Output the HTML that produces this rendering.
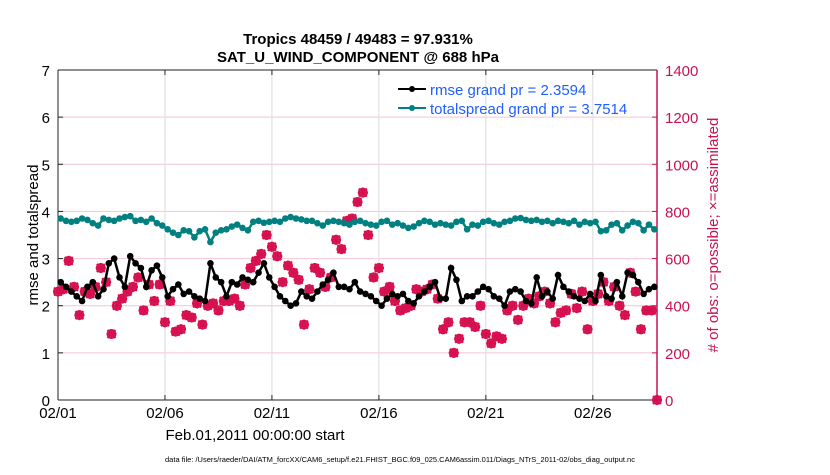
<!DOCTYPE html>
<html><head><meta charset="utf-8"><style>
body{margin:0;background:#fff;}
svg text{font-family:"Liberation Sans",sans-serif;}
</style></head><body>
<svg id="chart" width="830" height="470" xmlns="http://www.w3.org/2000/svg">
<rect width="830" height="470" fill="#fff"/>
<text x="358" y="44" font-size="15" font-weight="bold" text-anchor="middle">Tropics 48459 / 49483 = 97.931%</text>
<text x="358" y="62" font-size="15" font-weight="bold" text-anchor="middle">SAT_U_WIND_COMPONENT @ 688 hPa</text>
<g id="grid"></g>
<g id="axes"></g>
<g id="marks"></g>
<text x="255" y="440" font-size="15" text-anchor="middle">Feb.01,2011 00:00:00 start</text>
<text transform="translate(38,235) rotate(-90)" font-size="15" text-anchor="middle">rmse and totalspread</text>
<text transform="translate(718,235) rotate(-90)" font-size="15" fill="#c8134f" text-anchor="middle"># of obs: o=possible; ×=assimilated</text>
<text x="400" y="462" font-size="7.5" text-anchor="middle">data file: /Users/raeder/DAI/ATM_forcXX/CAM6_setup/f.e21.FHIST_BGC.f09_025.CAM6assim.011/Diags_NTrS_2011-02/obs_diag_output.nc</text>
<g>
<line x1="398" y1="89" x2="426" y2="89" stroke="#000" stroke-width="2"/><circle cx="412" cy="89" r="3" fill="#000"/>
<text x="430" y="95" font-size="15" fill="#1f5fff">rmse grand pr = 2.3594</text>
<line x1="398" y1="108" x2="426" y2="108" stroke="#008080" stroke-width="2"/><circle cx="412" cy="108" r="3" fill="#008080"/>
<text x="430" y="114" font-size="15" fill="#1f5fff">totalspread grand pr = 3.7514</text>
</g>
</svg>
<script>
const xTickLabels=["02/01","02/06","02/11","02/16","02/21","02/26"];
const xTickDays=[0,5,10,15,20,25];
const yLeftTicks=[0,1,2,3,4,5,6,7];
const yRightTicks=[0,200,400,600,800,1000,1200,1400];
const rmse=[2.5,2.4,2.3,2.2, 2.1,2.4,2.5,2.2, 2.35,2.9,3.0,2.6, 2.4,3.05,2.9,2.8, 2.4,2.75,2.85,2.6, 2.2,2.35,2.45,2.25, 2.3,2.2,2.15,2.1, 2.9,2.6,2.5,2.2, 2.5,2.45,2.6,2.55, 2.5,2.7,2.9,2.6, 2.4,2.2,2.1,2.0, 2.05,2.3,2.2,2.15, 2.3,2.45,2.55,2.7, 2.4,2.4,2.35,2.5, 2.3,2.25,2.2,2.1, 2.0,2.15,2.25,2.2, 2.25,2.1,2.05,2.2, 2.3,2.4,2.5,2.15, 2.15,2.8,2.55,2.1, 2.2,2.2,2.3,2.4, 2.35,2.2,2.15,2.0, 2.3,2.35,2.3,2.1, 2.05,2.6,2.2,2.3, 2.15,2.65,2.4,2.3, 2.2,2.15,2.1,2.25, 2.1,2.65,2.2,2.15, 2.5,2.2,2.7,2.65, 2.5,2.25,2.35,2.4];
const spread=[3.85,3.8,3.78,3.8, 3.85,3.82,3.75,3.7, 3.85,3.82,3.8,3.85, 3.88,3.9,3.8,3.82, 3.78,3.85,3.75,3.7, 3.62,3.55,3.5,3.6, 3.58,3.45,3.58,3.62, 3.35,3.55,3.6,3.62, 3.68,3.72,3.65,3.6, 3.78,3.8,3.76,3.78, 3.8,3.78,3.85,3.88, 3.85,3.83,3.8,3.8, 3.75,3.7,3.78,3.8, 3.78,3.75,3.72,3.78, 3.8,3.75,3.72,3.7, 3.78,3.8,3.72,3.75, 3.7,3.65,3.68,3.75, 3.8,3.78,3.72,3.75, 3.72,3.7,3.78,3.8, 3.62,3.72,3.7,3.78, 3.8,3.75,3.72,3.78, 3.8,3.85,3.86,3.82, 3.8,3.82,3.78,3.8, 3.75,3.8,3.78,3.75, 3.8,3.72,3.78,3.75, 3.78,3.58,3.6,3.72, 3.75,3.6,3.7,3.78, 3.75,3.6,3.72,3.62];
const obsCount=[460,470,590,480, 360,460,450,480, 560,500,280,400, 430,460,480,520, 380,490,420,490, 330,420,290,300, 360,350,410,320, 400,410,380,420, 420,430,400,490, 560,590,620,700, 650,610,500,570, 540,510,320,470, 560,540,480,520, 680,640,760,770, 840,880,700,520, 560,460,480,420, 380,390,400,470, 460,470,490,430, 300,330,200,260, 330,330,310,400, 280,240,270,260, 380,400,340,400, 430,410,440,460, 410,330,370,380, 450,390,460,300, 420,450,500,420, 480,400,360,540, 460,300,380,380, 0];
const NS="http://www.w3.org/2000/svg";
const X0=58,X1=657,Y0=400,Y1=70;
const xDay=d=>X0+(X1-X0)*d/28;
const yL=v=>Y0-(Y0-Y1)*v/7;
const yR=v=>Y0-(Y0-Y1)*v/1400;
function mk(tag,attrs,parent){const e=document.createElementNS(NS,tag);for(const k in attrs)e.setAttribute(k,attrs[k]);parent.appendChild(e);return e;}
const grid=document.getElementById('grid'),axes=document.getElementById('axes'),marks=document.getElementById('marks');
yLeftTicks.forEach((t,i)=>{
  if(i>0&&i<yLeftTicks.length-1){const g=mk('line',{x1:X0,x2:X1,y1:yL(t),y2:yL(t),stroke:'#f2c4d4','stroke-width':1},grid);
  
  }
  mk('line',{x1:X0,x2:X0+5,y1:yL(t),y2:yL(t),stroke:'#222'},axes);
  const tx=mk('text',{x:X0-8,y:yL(t)+6,'font-size':15,'text-anchor':'end'},axes);tx.textContent=t;
  
  
});
yRightTicks.forEach(t=>{
  mk('line',{x1:X1-5,x2:X1,y1:yR(t),y2:yR(t),stroke:'#c8134f'},axes);
  const tx=mk('text',{x:X1+8,y:yR(t)+6,'font-size':15,fill:'#c8134f'},axes);tx.textContent=t;
  
  
});
xTickDays.forEach((d,i)=>{
  if(i>0){const g=mk('line',{x1:xDay(d),x2:xDay(d),y1:Y0,y2:Y1,stroke:'#dcdcdc'},grid);
  
  }
  mk('line',{x1:xDay(d),x2:xDay(d),y1:Y0,y2:Y0-5,stroke:'#222'},axes);
  mk('line',{x1:xDay(d),x2:xDay(d),y1:Y1,y2:Y1+5,stroke:'#222'},axes);
  const tx=mk('text',{x:xDay(d),y:Y0+18,'font-size':15,'text-anchor':'middle'},axes);tx.textContent=xTickLabels[i];
  
  
});
mk('line',{x1:X0,x2:X1,y1:Y1,y2:Y1,stroke:'#222'},axes);
mk('line',{x1:X0,x2:X1,y1:Y0,y2:Y0,stroke:'#222'},axes);
mk('line',{x1:X0,x2:X0,y1:Y0,y2:Y1,stroke:'#222'},axes);
mk('line',{x1:X1,x2:X1,y1:Y0,y2:Y1,stroke:'#c8134f','stroke-width':1.5},axes);
// obs markers
obsCount.forEach((v,i)=>{
  const cx=xDay(i/4),cy=yR(v);
  const g=mk('g',{},marks);
  
  
  mk('circle',{cx:cx,cy:cy,r:4,fill:'none',stroke:'#d6104f','stroke-width':2},g);
  mk('path',{d:`M${cx-5} ${cy}H${cx+5}M${cx} ${cy-5}V${cy+5}M${cx-4} ${cy-4}L${cx+4} ${cy+4}M${cx-4} ${cy+4}L${cx+4} ${cy-4}`,stroke:'#d6104f','stroke-width':2},g);
});
function series(vals,color,name){
  const p=mk('polyline',{points:vals.map((v,i)=>xDay(i/4+0.125)+','+yL(v)).join(' '),fill:'none',stroke:color,'stroke-width':2.5},marks);
  
  
  vals.forEach((v,i)=>{const c=mk('circle',{cx:xDay(i/4+0.125),cy:yL(v),r:3.3,fill:color},marks);
  
  });
}
series(spread,'#008080','totalspread');
series(rmse,'#000','rmse');
</script>
</body></html>
